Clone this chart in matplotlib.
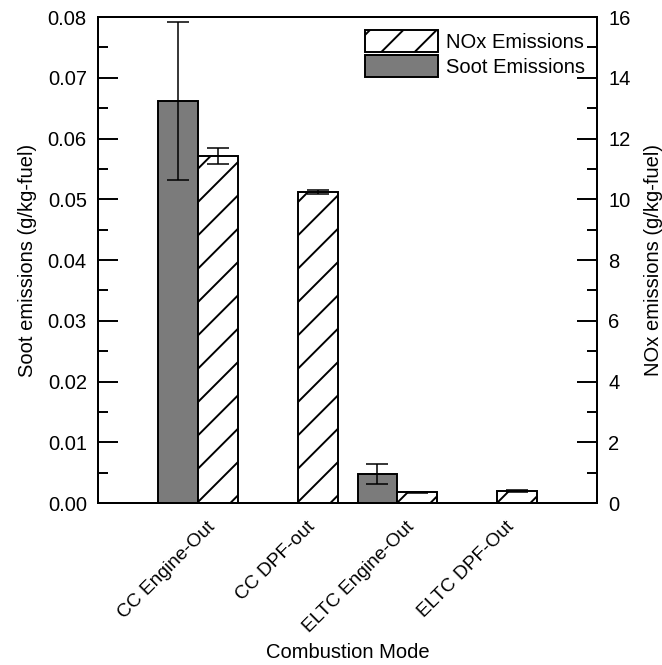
import matplotlib.pyplot as plt
import matplotlib.transforms as mtransforms
from matplotlib.ticker import MultipleLocator, FormatStrFormatter
import numpy as np

plt.rcParams['font.family'] = ['Liberation Sans', 'DejaVu Sans']
plt.rcParams['hatch.linewidth'] = 1.4

modes = ['CC Engine-Out', 'CC DPF-out', 'ELTC Engine-Out', 'ELTC DPF-Out']
soot = [0.0661, 0.0, 0.0048, 0.0]
soot_err = [0.0130, 0.0, 0.0016, 0.0]
nox = [11.43, 10.24, 0.35, 0.40]
nox_err = [0.27, 0.08, 0.02, 0.03]

x = np.arange(len(modes))
w = 0.4
fs = 14.5

fig = plt.figure(figsize=(6.62, 6.65), dpi=100)
ax = fig.add_axes([0.148, 0.2436, 0.754, 0.7308])
ax2 = ax.twinx()

err_kw = dict(elinewidth=1.1, capsize=8.0, capthick=1.1, ecolor='black')

# soot on the left axis, only where measured
has_soot = [i for i, v in enumerate(soot) if v > 0]
b1 = ax.bar(x[has_soot] - w / 2, [soot[i] for i in has_soot], w,
            yerr=[soot_err[i] for i in has_soot], color='#7b7b7b',
            edgecolor='black', linewidth=1.4, error_kw=err_kw,
            label='Soot Emissions')
b2 = ax2.bar(x + w / 2, nox, w, yerr=nox_err, color='white',
             edgecolor='black', linewidth=1.4, hatch='/', error_kw=err_kw,
             label='NOx Emissions')

ax.set_xlim(-1, 4)
ax.set_ylim(0, 0.08)
ax2.set_ylim(0, 16)

ax.yaxis.set_major_locator(MultipleLocator(0.01))
ax.yaxis.set_minor_locator(MultipleLocator(0.005))
ax.yaxis.set_major_formatter(FormatStrFormatter('%.2f'))
ax2.yaxis.set_major_locator(MultipleLocator(2))
ax2.yaxis.set_minor_locator(MultipleLocator(1))

for a in (ax, ax2):
    a.tick_params(axis='y', which='major', direction='in', length=14.4,
                  width=1.4, labelsize=fs, pad=8)
    a.tick_params(axis='y', which='minor', direction='in', length=7.2,
                  width=1.4)
    for s in a.spines.values():
        s.set_linewidth(1.4)

ax.set_xticks(x)
ax.set_xticklabels(modes, rotation=45, ha='right', rotation_mode='anchor',
                   fontsize=13.8)
ax.tick_params(axis='x', length=0, pad=11)
shift = mtransforms.ScaledTranslation(6 / 72, 0, fig.dpi_scale_trans)
for lbl in ax.get_xticklabels():
    lbl.set_transform(lbl.get_transform() + shift)

ax.set_ylabel('Soot emissions (g/kg-fuel)', fontsize=fs, labelpad=8)
ax2.set_ylabel('NOx emissions (g/kg-fuel)', fontsize=fs, labelpad=10)
ax.set_xlabel('Combustion Mode', fontsize=fs)
ax.xaxis.set_label_coords(0.5, -0.288)

ax2.legend([b2, b1], ['NOx Emissions', 'Soot Emissions'], loc='upper right',
           bbox_to_anchor=(1.0, 0.998), frameon=False, fontsize=fs,
           handlelength=3.6, handleheight=1.3, handletextpad=0.4,
           labelspacing=0.15, borderaxespad=0.2)

fig.savefig('out.png', dpi=100)
